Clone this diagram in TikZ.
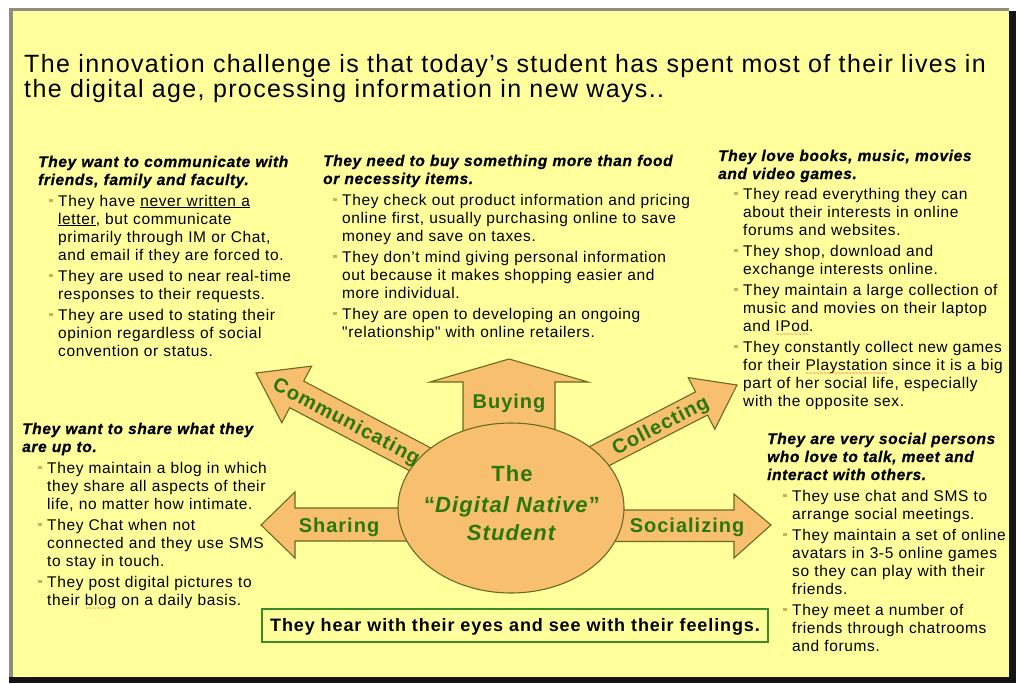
\documentclass[tikz,border=0pt]{standalone}
\usepackage{fontspec}
\setmainfont{Liberation Sans}
\newfontfamily\titleff[LetterSpace=5.5]{Liberation Sans}
\newfontfamily\bodyff[LetterSpace=4]{Liberation Sans}
\newfontfamily\headff[LetterSpace=4, FakeBold=0.6]{Liberation Sans}
\newfontfamily\lblff[LetterSpace=5]{Liberation Sans}
\usetikzlibrary{shapes.geometric}
\definecolor{bg}{HTML}{FFFF9C}
\definecolor{orangefill}{HTML}{F8BF6E}
\definecolor{olive}{HTML}{6A6A22}
\definecolor{labelgreen}{HTML}{2A780C}
\definecolor{bulletc}{HTML}{C8B25A}
\definecolor{boxgreen}{HTML}{3C8A24}
\definecolor{framegray}{HTML}{8E8E80}
\definecolor{shadow}{HTML}{151515}
\newcommand\myul[1]{\underline{#1}}
\newcommand\redsq[1]{\leavevmode\setbox0=\hbox{#1}\rlap{\raisebox{-5pt}[0pt][0pt]{\textcolor{red}{\normalfont\fontsize{6}{6}\selectfont\hbox to \wd0{\xleaders\hbox{\textasciitilde}\hfill}}}}\box0\relax}
\newcommand\bul{\leavevmode\llap{\textcolor{bulletc}{\rule[4pt]{3.5pt}{3.5pt}}\hspace{5.5pt}}}
\tikzset{
  arrowshape/.style={draw=olive, fill=orangefill, line width=1.1pt, line join=miter},
  lbl/.style={font=\lblff\bfseries\fontsize{20}{24}\selectfont, text=labelgreen, inner sep=0pt},
  coretext/.style={font=\lblff\bfseries\fontsize{22}{26}\selectfont, text=labelgreen, inner sep=0pt, anchor=base},
  hdr/.style={anchor=base west, inner sep=0pt, align=left, text width=#1, font=\headff\bfseries\itshape\fontsize{15.5}{18}\selectfont},
  bodytext/.style={anchor=base west, inner sep=0pt, align=left, text width=#1, font=\bodyff\fontsize{15.5}{18}\selectfont},
}
\begin{document}
\begin{tikzpicture}[x=1pt, y=-1pt]
\useasboundingbox (0,0) rectangle (1020,683);
% frame
\fill[white] (0,0) rectangle (1020,683);
\fill[shadow] (1009,11) rectangle (1016,683);
\fill[shadow] (9,677) rectangle (1016,683);
\fill[framegray] (9,8) rectangle (1009,11);
\fill[framegray] (9,8) rectangle (13,677);
\fill[bg] (13,11) rectangle (1009,677);

% title
\node[anchor=base west, inner sep=0pt, align=left, text width=985pt,
      font=\titleff\fontsize{25}{25.5}\selectfont] (title) at (24,72)
  {The innovation challenge is that today’s student has spent most of their lives in\\
   the digital age, processing information in new ways..};

% block 1
\node[hdr=272pt] (h1) at (38,167) {They want to communicate with\\friends, family and faculty.};
\node[bodytext=248pt] (b1) at (58,206) {%
\bul They have \myul{never written a}\\
\myul{letter}, but communicate\\
primarily through IM or Chat,\\
and email if they are forced to.\\[3pt]
\bul They are used to near real-time\\
responses to their requests.\\[3pt]
\bul They are used to stating their\\
opinion regardless of social\\
convention or status.};

% block 2
\node[hdr=380pt] (h2) at (323,166) {They need to buy something more than food\\or necessity items.};
\node[bodytext=368pt] (b2) at (342,205) {%
\bul They check out product information and pricing\\
online first, usually purchasing online to save\\
money and save on taxes.\\[3pt]
\bul They don’t mind giving personal information\\
out because it makes shopping easier and\\
more individual.\\[3pt]
\bul They are open to developing an ongoing\\
"relationship" with online retailers.};

% block 3
\node[hdr=285pt] (h3) at (718,161) {They love books, music, movies\\and video games.};
\node[bodytext=264pt] (b3) at (743,199) {%
\bul They read everything they can\\
about their interests in online\\
forums and websites.\\[3pt]
\bul They shop, download and\\
exchange interests online.\\[3pt]
\bul They maintain a large collection of\\
music and movies on their laptop\\
and \redsq{IPod}.\\[3pt]
\bul They constantly collect new games\\
for their \redsq{Playstation} since it is a big\\
part of her social life, especially\\
with the opposite sex.};

% block 4
\node[hdr=260pt] (h4) at (22,434) {They want to share what they\\are up to.};
\node[bodytext=235pt] (b4) at (47,473) {%
\bul They maintain a blog in which\\
they share all aspects of their\\
life, no matter how intimate.\\[3pt]
\bul They Chat when not\\
connected and they use SMS\\
to stay in touch.\\[3pt]
\bul They post digital pictures to\\
their \redsq{blog} on a daily basis.};

% block 5
\node[hdr=240pt] (h5) at (767,444) {They are very social persons\\who love to talk, meet and\\interact with others.};
\node[bodytext=216pt] (b5) at (792,501) {%
\bul They use chat and SMS to\\
arrange social meetings.\\[3pt]
\bul They maintain a set of online\\
avatars in 3-5 online games\\
so they can play with their\\
friends.\\[3pt]
\bul They meet a number of\\
friends through chatrooms\\
and forums.};

% arrows
\draw[arrowshape] (463,432) -- (463,382) -- (430,382) -- (509,359) -- (588,382) -- (555,382) -- (555,432) -- cycle;
\draw[arrowshape] (408,508) -- (295,508) -- (295,492) -- (261,525) -- (295,558) -- (295,541) -- (408,541) -- cycle;
\draw[arrowshape] (612,510) -- (734,510) -- (734,494) -- (771,525) -- (734,558) -- (734,541.5) -- (612,541.5) -- cycle;
\draw[arrowshape] (432.6,448.9) -- (303.7,381.1) -- (311.6,366.1) -- (256,373) -- (281.8,422.7) -- (289.7,407.7) -- (418.6,475.5) -- cycle;
\draw[arrowshape] (585.8,448.5) -- (695.5,391.9) -- (688.2,377.6) -- (737,385) -- (714.8,429.2) -- (707.5,415) -- (597.8,471.5) -- cycle;

% centre ellipse
\node[ellipse, draw=olive, fill=orangefill, line width=1.1pt, minimum width=226pt, minimum height=170pt, inner sep=0pt] (core) at (511,508) {};
\node[coretext] (t1) at (512,481) {The};
\node[coretext] (t2) at (512,512) {“\textit{Digital Native}”};
\node[coretext] (t3) at (512,540) {\textit{Student}};

% arrow labels
\node[lbl, anchor=base] (buyL) at (509,408) {Buying};
\node[lbl, anchor=base] (shareL) at (339,532) {Sharing};
\node[lbl, anchor=base] (socL) at (687,532) {Socializing};
\node[lbl, text height=14.5pt, text depth=0pt, rotate=-27.75] (comL) at (347,420.5) {Communicating};
\node[lbl, text height=14.5pt, text depth=0pt, rotate=27.3] (colL) at (660,425) {Collecting};

% motto box
\node[draw=boxgreen, line width=1.2pt, minimum width=506pt, minimum height=33pt, inner sep=0pt,
      text height=12.5pt, text depth=0pt, font=\lblff\bfseries\fontsize{18}{20}\selectfont] (motto) at (515,625.5)
  {They hear with their eyes and see with their feelings.};
\end{tikzpicture}
\end{document}
